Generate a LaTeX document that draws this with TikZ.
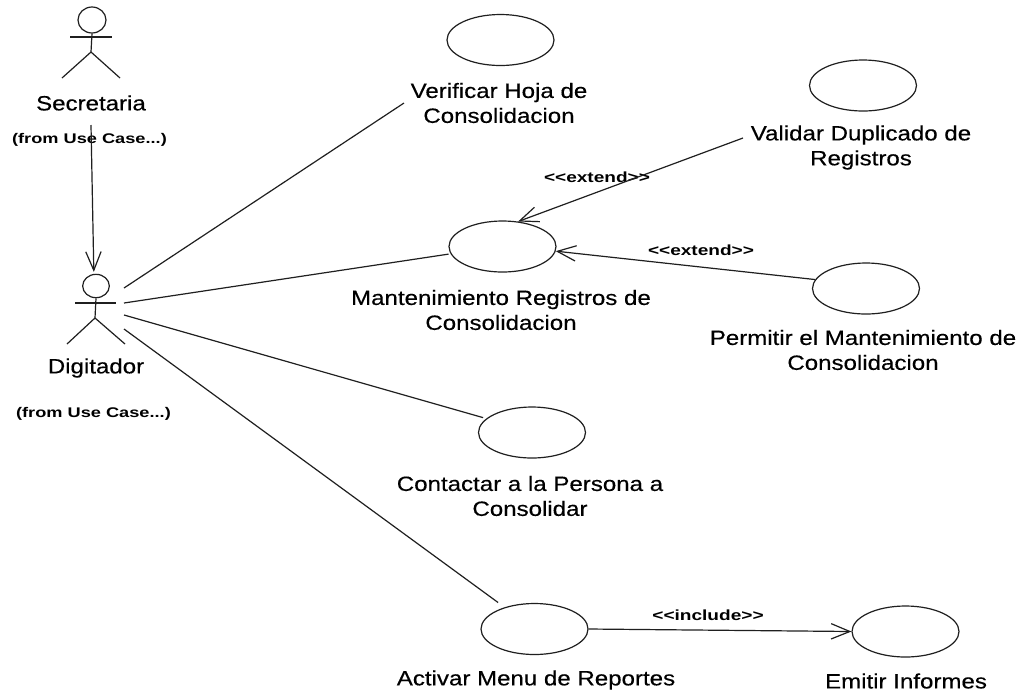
\documentclass[tikz,border=0pt]{standalone}
\usepackage{fontspec}
\setmainfont{Liberation Sans}
\newfontfamily\lblf[FakeStretch=1.165,FakeBold=0.35]{Liberation Sans}
\newfontfamily\smf[FakeStretch=1.3]{Liberation Sans}
\usetikzlibrary{arrows.meta,shapes.geometric}
\tikzset{
 ln/.style={draw=black!88,line width=0.9pt},
 uc/.style={ln,fill=white,ellipse,minimum width=80.25pt,minimum height=38.25pt,inner sep=0pt},
 headn/.style={ln,fill=white,ellipse,inner sep=0pt},
 lbl/.style={font=\lblf\fontsize{15.5}{18.7}\selectfont,align=center,inner sep=0pt,text=black},
 tiny/.style={font=\smf\bfseries\fontsize{10.5}{12}\selectfont,inner sep=0pt,text=black},
 ster/.style={font=\smf\bfseries\fontsize{11}{12}\selectfont,inner sep=0pt,text=black},
 arr/.style={ln,-{Straight Barb[length=14pt,width=11.5pt,line width=0.9pt]}}
}
\begin{document}
\begin{tikzpicture}[x=0.75pt,y=-0.75pt]
\useasboundingbox (0,0) rectangle (1021,694);
\fill[white] (0,0) rectangle (1021,694);
% Secretaria actor
\node[headn,minimum width=21pt,minimum height=19.5pt] (secHead) at (92,20) {};
\draw[ln] (secHead.south) -- (91,52) -- (62,78);
\draw[ln] (91,52) -- (120,78);
\draw[ln] (70,37) -- (112,37);
% Digitador actor
\node[headn,minimum width=20pt,minimum height=17.5pt] (digHead) at (96,286) {};
\draw[ln] (digHead.south) -- (95,318) -- (67,344);
\draw[ln] (95,318) -- (125,344);
\draw[ln] (75,303) -- (116,303);
% Use cases
\node[uc] (ver) at (500.5,40) {};
\node[uc] (man) at (502.5,246.5) {};
\node[uc] (val) at (863,85.5) {};
\node[uc] (per) at (866,288.5) {};
\node[uc] (con) at (532,432.5) {};
\node[uc] (act) at (534.5,629) {};
\node[uc] (emi) at (905.5,631.5) {};
% Labels
\node[lbl] (secL) at (91,103) {Secretaria};
\node[tiny] (secF) at (89.5,140) {(from Use Case...)};
\node[lbl] (digL) at (96,368) {Digitador};
\node[tiny] (digF) at (93.5,414) {(from Use Case...)};
\node[lbl] (verL) at (499,103) {Verificar Hoja de\\Consolidacion};
\node[lbl] (manL) at (501,310) {Mantenimiento Registros de\\Consolidacion};
\node[lbl] (valL) at (861,147.5) {Validar Duplicado de\\Registros};
\node[lbl] (perL) at (863,350) {Permitir el Mantenimiento de\\Consolidacion};
\node[lbl] (conL) at (530,496) {Contactar a la Persona a\\Consolidar};
\node[lbl] (actL) at (536,680) {Activar Menu de Reportes};
\node[lbl] (emiL) at (906,681) {Emitir Informes};
\node[ster] (ext1) at (597,177) {<{}<extend>{}>};
\node[ster] (ext2) at (701,250) {<{}<extend>{}>};
\node[ster] (inc) at (708,615) {<{}<include>{}>};
% Connector free ends
\coordinate (dA) at (124,288);
\coordinate (dB) at (124,303);
\coordinate (dC) at (124,315);
\coordinate (dD) at (124,329);
\coordinate (secOut) at (91,125);
\coordinate (verIn) at (404,103);
\coordinate (valOut) at (743,138);
% Connectors
\draw[arr,shorten >=1.5pt] (secOut) -- (digHead.100);
\draw[ln] (dA) -- (verIn);
\draw[ln,shorten >=1.5pt] (dB) -- (man.188);
\draw[ln,shorten >=2.5pt] (dC) -- (con.163);
\draw[ln,shorten >=6pt] (dD) -- (act.144);
\draw[arr] (valOut) -- (man.58);
\draw[arr] (per.170) -- (man.-5);
\draw[arr] (act.east) -- (emi.west);
\end{tikzpicture}
\end{document}
